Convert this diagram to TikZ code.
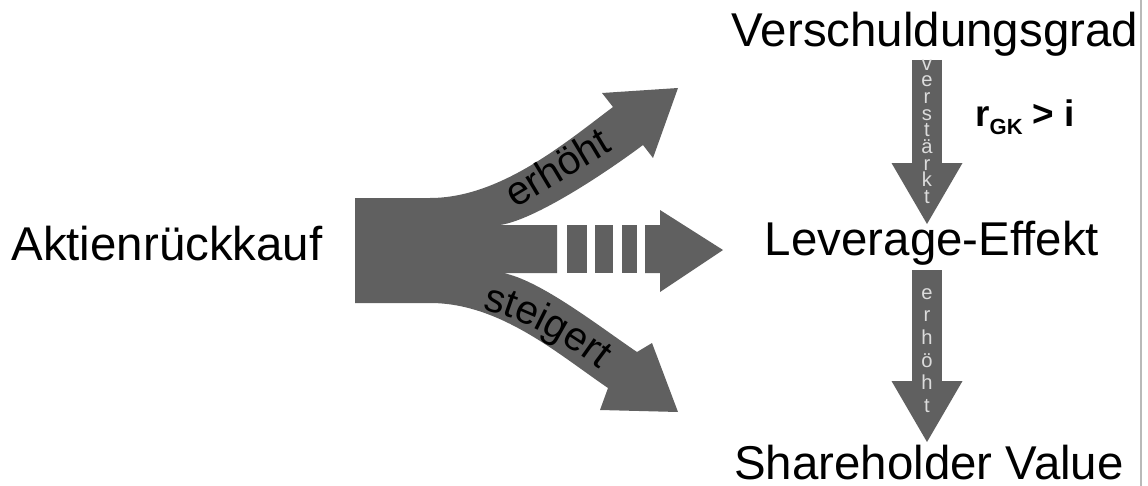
\documentclass[tikz,border=0pt]{standalone}
\usepackage{fontspec}
\setmainfont{Liberation Sans}
\usetikzlibrary{arrows.meta,decorations.text}
\definecolor{pfeilgrau}{HTML}{606060}
\definecolor{buchstgrau}{HTML}{DCDCDC}
\newcommand\steigfont{\fontsize{23}{25}\selectfont}

\begin{document}
\begin{tikzpicture}[x=0.02cm,y=-0.02cm]
  \tikzstyle{label}=[inner sep=0pt,anchor=base,font=\fontsize{27}{30}\selectfont]
  \tikzstyle{fatdown}=[draw=pfeilgrau,line width=0.6cm,-{Triangle[width=1.42cm,length=1.22cm,line width=0pt]}]
  \tikzstyle{letters}=[inner sep=0pt,anchor=north,align=center,text=buchstgrau]
  \useasboundingbox (0,0) rectangle (1148,486);

  \node[label] (akt) at (167,260) {Aktienrückkauf};
  \node[label] (vg) at (935,47) {Verschuldungsgrad};
  \node[label] (lev) at (932,255) {Leverage-Effekt};
  \node[label] (shv) at (929,479) {Shareholder Value};

  % gegabelter Pfeil
  \fill[pfeilgrau] (355,198) -- (430,198) .. controls (500,198) and (565,143) .. (613,107)
    -- (602,93) -- (678,88) -- (653,158) -- (643,145)
    .. controls (607,172) and (535,220) .. (500,225) -- (557,225) -- (557,273) -- (503,273)
    .. controls (540,280) and (600,327) .. (637,352)
    -- (652,343) -- (678,412) -- (600,410) -- (608,388)
    .. controls (558,354) and (500,303) .. (430,303) -- (355,303) -- cycle;
  \foreach \xa/\xb in {567/587,595/613,622/637}
    \fill[pfeilgrau] (\xa,225) rectangle (\xb,273);
  \fill[pfeilgrau] (645,225) -- (660,225) -- (660,210) -- (723,250) -- (660,292)
    -- (660,273) -- (645,273) -- cycle;

  \node[rotate=31,inner sep=0pt,font=\steigfont] (erh) at (557,167) {erhöht};
  \path[decorate,decoration={text along path,text align=center,text={|\steigfont|steigert}}]
    (462,306) .. controls (512,312) and (562,338) .. (615,382);

  % senkrechte Pfeile
  \coordinate (vo1) at (927,60);
  \coordinate (vu1) at (927,224);
  \coordinate (vo2) at (927,270);
  \coordinate (vu2) at (927,442);
  \draw[fatdown] (vo1) -- (vu1);
  \draw[fatdown] (vo2) -- (vu2);
  \node[letters,font=\fontsize{11.5}{9.5}\selectfont] (vst) at (927,59) {v\\e\\r\\s\\t\\ä\\r\\k\\t};
  \node[letters,font=\fontsize{11.5}{12.86}\selectfont] (erh2) at (927,288) {e\\r\\h\\ö\\h\\t};

  \node[inner sep=0pt,anchor=base west,font=\fontsize{21}{24}\selectfont\bfseries] (rgk) at (975,127)
    {r{\fontsize{12.5}{14}\selectfont\raisebox{-4.5pt}{GK}} > i};

  \draw[gray!55,line width=1pt] (1141,0) -- (1141,486);
\end{tikzpicture}
\end{document}
